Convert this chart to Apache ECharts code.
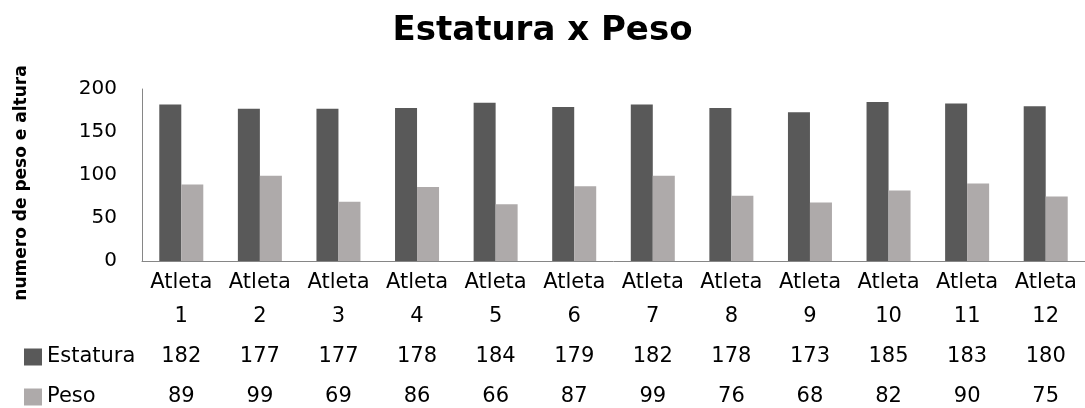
<!DOCTYPE html>
<html><head><meta charset="utf-8">
<script src="https://cdn.jsdelivr.net/npm/echarts@6/dist/echarts.min.js"></script>
<style>html,body{margin:0;padding:0;background:#fff}#c{width:1085px;height:408px}</style>
</head><body><div id="c"></div>
<script>
const categories = ['Atleta\n1','Atleta\n2','Atleta\n3','Atleta\n4','Atleta\n5','Atleta\n6','Atleta\n7','Atleta\n8','Atleta\n9','Atleta\n10','Atleta\n11','Atleta\n12'];
const estatura = [182,177,177,178,184,179,182,178,173,185,183,180];
const peso = [89,99,69,86,66,87,99,76,68,82,90,75];
const seriesNames = ['Estatura','Peso'];
const yAxisTitle = 'numero de peso e altura';
const chartTitle = 'Estatura x Peso';
const FONT = '"DejaVu Sans"';
const chart = echarts.init(document.getElementById('c'));
const tableAxis = (vals, off) => ({
  type:'category', data: vals.map(String), position:'bottom', offset: off,
  axisLine:{show:false}, axisTick:{show:false},
  axisLabel:{margin:0, fontSize:21, color:'#000', fontFamily:FONT, interval:0, verticalAlign:'middle'}
});
chart.setOption({
  animation:false,
  textStyle:{fontFamily:FONT},
  title:{text:chartTitle, left:'center', top:9,
    textStyle:{fontSize:34, fontWeight:'bold', color:'#000', fontFamily:FONT}},
  legend:{orient:'vertical', left:24, top:346, padding:0, itemWidth:18, itemHeight:17, itemGap:18,
    icon:'rect', data:seriesNames,
    textStyle:{fontSize:21, lineHeight:22, color:'#000', fontFamily:FONT}},
  graphic:[{type:'text', x:22, y:183, rotation:Math.PI/2,
    style:{text:yAxisTitle, fontSize:17, fontWeight:'bold', fill:'#000', fontFamily:'DejaVu Sans',
      align:'center', verticalAlign:'middle'}}],
  grid:{left:142, right:0, top:89, bottom:147, containLabel:false},
  xAxis:[
    {type:'category', data:categories,
     axisLine:{show:true, lineStyle:{color:'#868686', width:1}}, axisTick:{show:false},
     axisLabel:{margin:5, fontSize:21, color:'#000', fontFamily:FONT, lineHeight:34, interval:0}},
    tableAxis(estatura, 96),
    tableAxis(peso, 136)
  ],
  yAxis:{type:'value', min:0, max:200, interval:50,
    axisLine:{show:true, lineStyle:{color:'#868686'}}, axisTick:{show:false},
    splitLine:{show:false},
    axisLabel:{margin:25, fontSize:20, color:'#000', fontFamily:FONT}},
  series:[
    {name:'Estatura', type:'bar', data:estatura, xAxisIndex:0, barGap:'0%', barCategoryGap:'44%', itemStyle:{color:'#595959'}},
    {name:'Peso', type:'bar', data:peso, xAxisIndex:0, barGap:'0%', barCategoryGap:'44%', itemStyle:{color:'#aeaaaa'}}
  ]
});
</script></body></html>
